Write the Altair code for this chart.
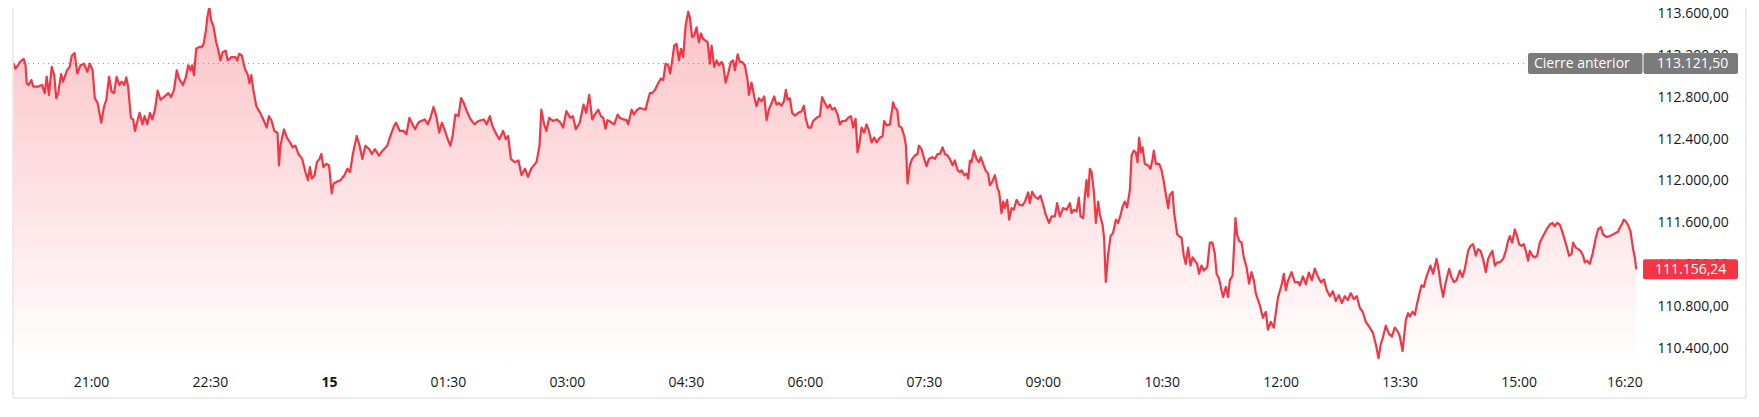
import altair as alt
import pandas as pd

# (minutes since 20:00 of day 14, price)
series = [
    (1.3,113128),(2.7,113074),(4.8,113105),(6.2,113137),(7.6,113152),(9.1,113166),(10.5,113105),(11.4,112933),(12.9,112917),(14.9,112964),
    (16.3,112902),(20.1,112902),(23.0,112917),(25.0,112839),(26.5,112996),(28.2,112823),(30.3,113090),(32.2,113011),(33.7,112792),(35.2,112839),
    (37.4,113021),(38.9,112949),(41.8,113058),(43.9,113090),(45.5,113199),(47.6,113222),(49.6,113027),(52.0,113105),(54.8,113121),(57.2,113043),
    (59.1,113121),(61.2,113058),(62.9,112792),(65.0,112745),(67.8,112557),(69.9,112714),(71.6,112776),(73.7,112996),(75.6,112855),(77.4,112839),
    (79.4,112996),(81.5,112917),(83.2,112949),(85.2,112917),(86.7,112990),(88.1,112902),(90.2,112604),(91.9,112588),(93.3,112478),(95.4,112588),
    (96.8,112651),(98.9,112541),(100.6,112620),(102.6,112541),(104.6,112651),(106.4,112588),(108.4,112682),(110.4,112864),(112.7,112776),(115.7,112808),
    (118.5,112839),(120.6,112801),(122.8,112870),(124.9,113058),(126.6,112980),(129.5,112917),(131.5,112980),(133.6,113105),(135.3,113058),(136.5,113105),
    (137.9,113011),(139.6,113263),(141.7,113279),(143.7,113279),(145.2,113310),(146.9,113435),(148.0,113561),(149.5,113661),(151.0,113529),(152.6,113482),
    (154.7,113326),(156.1,113263),(157.9,113152),(159.6,113231),(161.9,113246),(163.4,113152),(166.3,113184),(169.2,113184),(170.6,113152),(172.1,113215),
    (174.1,113199),(176.4,113074),(178.7,113011),(179.9,112933),(181.3,113011),(182.8,112870),(185.1,112714),(188.0,112651),(190.9,112573),(192.9,112510),
    (194.6,112620),(196.7,112573),(198.7,112478),(201.1,112462),(202.2,112149),(203.3,112337),(206.0,112494),(208.2,112415),(210.6,112368),(212.6,112321),
    (214.6,112337),(216.9,112258),(219.8,112211),(222.2,112086),(224.2,112008),(225.6,112133),(227.1,112023),(229.1,112055),(230.9,112180),(232.9,112211),
    (234.3,112258),(235.8,112133),(237.8,112164),(240.1,112149),(242.1,111882),(243.6,111976),(245.9,111992),(248.8,112008),(251.7,112055),(254.0,112117),
    (256.0,112086),(258.1,112258),(261.0,112431),(263.2,112337),(265.3,112211),(267.6,112337),(270.5,112305),(272.5,112258),(274.8,112305),(277.8,112243),
    (280.6,112290),(284.1,112337),(286.5,112431),(289.3,112526),(290.8,112557),(293.6,112478),(296.6,112478),(298.6,112446),(300.9,112604),(303.2,112541),
    (305.2,112494),(307.6,112557),(309.6,112573),(312.5,112588),(314.8,112541),(316.8,112604),(319.1,112707),(321.2,112620),(323.4,112462),(325.5,112557),
    (327.8,112478),(329.9,112399),(331.8,112337),(333.6,112431),(335.6,112635),(338.0,112620),(340.0,112792),(342.0,112745),(344.3,112667),(347.2,112588),
    (350.1,112541),(353.0,112573),(357.3,112588),(359.4,112541),(361.7,112620),(363.7,112526),(366.0,112462),(368.9,112399),(371.8,112478),(373.8,112399),
    (375.6,112431),(377.6,112211),(380.5,112180),(383.4,112196),(385.7,112055),(388.3,112117),(390.6,112039),(393.0,112117),(395.0,112149),(397.0,112180),
    (399.3,112337),(400.7,112682),(402.8,112541),(404.5,112478),(406.6,112604),(409.4,112573),(412.3,112588),(415.2,112557),(417.2,112510),(419.6,112667),
    (422.5,112604),(424.5,112620),(426.8,112494),(429.7,112557),(432.6,112729),(434.6,112651),(436.9,112823),(439.2,112588),
    (441.2,112635),(443.7,112682),(445.8,112620),(447.5,112604),(449.3,112500),(450.8,112582),(453.3,112563),(455.8,112541),(458.4,112635),(460.1,112604),
    (462.6,112588),(465.2,112582),(466.4,112541),(469.0,112682),(470.7,112635),(472.8,112676),(475.3,112698),(477.7,112688),(479.6,112682),(481.1,112761),
    (482.8,112839),(484.6,112839),(486.6,112870),(489.1,112933),(491.1,112980),(492.9,112964),(494.7,113121),(496.7,113105),(498.2,113027),(499.7,113152),
    (501.2,113294),(503.0,113310),(504.8,113152),(506.3,113263),(508.0,113184),(509.8,113482),(511.8,113617),(513.1,113561),(514.8,113373),(516.3,113388),
    (518.1,113467),(519.9,113326),(521.4,113410),(523.1,113357),(524.9,113341),(526.5,113326),(528.2,113121),(529.5,113294),(531.4,113090),(533.3,113152),
    (535.0,113105),(537.0,113137),(538.3,113105),(540.1,112940),(542.0,113027),(544.1,113137),(545.8,113152),(547.1,113058),(549.2,113209),(550.9,113137),
    (552.6,113137),(554.7,113105),(556.7,112964),(557.7,112823),(559.7,112940),(561.7,112808),(563.5,112714),(565.3,112792),(567.3,112761),(569.3,112808),
    (571.1,112582),(572.8,112682),(574.9,112745),(576.8,112808),(578.6,112729),(580.4,112745),(582.4,112719),(584.2,112761),(585.7,112870),(587.0,112776),
    (588.7,112792),(590.4,112651),(592.5,112625),(595.0,112651),(597.6,112667),(599.3,112719),(600.6,112604),(602.6,112510),(604.6,112510),(606.3,112573),
    (608.9,112604),(611.4,112620),(613.1,112801),(615.2,112745),(617.2,112698),(619.0,112729),(620.7,112682),(622.7,112698),(624.8,112635),(626.5,112541),
    (628.3,112573),(630.8,112573),(632.8,112604),(634.9,112620),(636.6,112510),(638.4,112594),(639.9,112274),(641.1,112337),(642.9,112510),(644.9,112462),
    (646.7,112541),(648.5,112478),(650.5,112368),(652.5,112415),(654.3,112368),(656.8,112415),(658.8,112425),(660.0,112573),(661.9,112531),(664.4,112541),
    (666.8,112751),(668.1,112698),(669.9,112682),(671.2,112526),(673.2,112510),(675.2,112431),(676.5,112337),(677.7,111976),(679.5,112149),(681.2,112211),
    (683.3,112243),(685.3,112258),(686.3,112337),(688.3,112305),(690.3,112211),(692.1,112142),(693.9,112211),(696.3,112227),(698.4,112211),(700.4,112258),
    (702.2,112258),(704.2,112321),(706.0,112258),(708.0,112243),(709.7,112211),(711.8,112149),(713.5,112196),(715.6,112102),(717.3,112086),(718.6,112102),
    (720.6,112055),(722.4,112070),(723.6,112023),(724.9,112196),(726.1,112180),(727.9,112290),(729.9,112211),(731.7,112180),(733.2,112227),(734.9,112164),
    (736.7,112102),(738.7,112070),(740.0,111961),(741.7,111992),(743.8,112055),(745.8,111929),(747.0,111898),(748.8,111694),(750.1,111804),(751.3,111741),
    (753.1,111820),(754.6,111631),(756.4,111741),(758.1,111726),(760.2,111820),(762.2,111773),(764.7,111766),(766.5,111804),(769.0,111891),(770.2,111788),
    (772.0,111898),(774.0,111851),(776.5,111829),(778.3,111860),(780.3,111773),(782.3,111678),(784.8,111599),(786.7,111662),(789.2,111662),(790.9,111788),
    (792.9,111662),(795.4,111741),(798.0,111726),(800.5,111788),(801.8,111694),(803.5,111726),(805.6,111710),(807.3,111841),(808.6,111662),(810.6,111646),
    (811.8,111851),(813.1,112008),(814.3,111851),(815.6,112117),(816.9,112086),(818.7,111898),(820.2,111599),(821.9,111804),(823.2,111678),(825.2,111584),
    (826.4,111458),(827.7,111035),(829.5,111302),(831.3,111474),(833.2,111505),(835.3,111631),(837.0,111599),(838.9,111678),(840.4,111757),(842.1,111804),
    (843.8,111747),(845.9,111914),(847.2,112243),(848.9,112290),(850.4,112274),(851.7,112180),(852.9,112415),(854.2,112274),(855.5,112321),(857.2,112164),
    (859.7,112149),(861.5,112117),(863.1,112211),(864.0,112290),(865.6,112164),(868.1,112164),(869.9,112102),(871.6,111992),(873.6,111835),(874.9,111741),
    (876.1,111867),(878.2,111898),(879.4,111694),(880.7,111584),(881.7,111490),(883.2,111474),(885.0,111458),(886.7,111286),(888.2,111208),(890.0,111364),
    (891.8,111192),(893.3,111270),(895.1,111239),(896.8,111208),(898.3,111114),(900.1,111192),(901.9,111145),(904.4,111176),(906.4,111411),(908.4,111411),
    (910.2,111302),(911.5,111114),(913.4,111067),(915.2,110957),(916.5,110893),(918.5,110988),(920.2,110893),(921.5,111051),(923.6,111098),(924.8,111396),
    (925.8,111646),(927.0,111490),(928.6,111427),(930.4,111411),(932.1,111270),(934.2,111176),(936.1,111020),(937.9,111129),(939.7,111051),(941.2,110925),
    (942.9,110862),(944.2,110815),(946.5,110693),(948.8,110750),(950.3,110580),(952.5,110655),(954.8,110599),(957.1,110815),(958.1,110893),(960.6,111004),
    (962.4,111114),(963.9,110957),(965.6,111051),(968.2,111129),(970.7,111035),(973.2,111035),
    (974.5,111004),(976.8,111088),(979.1,111013),(981.3,111126),(983.6,111051),(985.8,111164),(988.1,111088),(990.4,111032),(992.7,111060),(994.9,110957),
    (997.2,110900),(999.5,110947),(1001.7,110853),(1004.0,110909),(1006.3,110834),(1008.5,110900),(1010.8,110862),(1013.0,110928),(1015.3,110872),(1017.6,110900),
    (1019.9,110787),(1022.1,110749),(1024.4,110655),
    (1027.4,110599),(1029.7,110552),(1032.0,110439),(1034.0,110307),(1035.7,110439),(1037.3,110505),(1039.5,110618),(1041.8,110542),(1044.1,110514),(1046.3,110599),
    (1048.6,110561),(1050.1,110517),(1052.2,110376),(1053.1,110486),(1054.7,110674),(1056.4,110737),(1057.7,110705),(1059.7,110752),(1061.5,110721),(1063.2,110831),
    (1064.7,110910),(1066.5,111004),(1068.3,110988),(1069.8,111067),(1071.5,111129),(1073.3,111192),(1075.3,111114),(1077.9,111255),(1079.8,111129),(1080.9,111020),
    (1082.9,110893),(1084.9,111035),(1087.4,111161),(1089.2,111082),(1091.0,111035),(1093.0,111051),(1095.5,111145),(1097.5,111082),(1099.3,111161),(1101.8,111333),
    (1103.6,111380),(1105.6,111396),(1107.6,111286),(1109.3,111349),(1111.2,111333),(1113.1,111255),(1115.2,111129),(1116.9,111255),(1118.7,111302),(1120.2,111333),
    (1122.0,111192),(1123.7,111223),(1125.8,111223),(1128.3,111255),(1130.3,111333),(1132.0,111427),(1133.3,111474),(1135.1,111411),(1137.1,111537),(1138.8,111474),
    (1140.4,111396),(1142.2,111380),(1143.9,111396),(1145.4,111333),(1147.2,111239),(1148.4,111333),(1150.5,111286),(1152.2,111270),(1154.0,111286),(1156.0,111411),
    (1158.5,111474),(1161.1,111537),(1163.6,111584),(1165.6,111599),(1167.4,111568),(1169.1,111599),(1171.1,111584),(1172.9,111521),(1174.4,111458),(1176.2,111380),
    (1178.2,111286),(1180.0,111302),(1181.2,111411),(1183.2,111364),(1185.0,111349),(1186.8,111333),(1188.8,111286),(1190.0,111223),(1191.8,111239),(1193.8,111208),
    (1195.9,111302),(1198.4,111458),(1200.1,111537),(1202.2,111559),(1203.9,111490),(1206.5,111465),(1209.0,111474),(1211.5,111490),(1213.5,111505),(1215.2,111515),
    (1217.1,111568),(1218.6,111599),(1219.5,111631),(1221.1,111615),(1222.8,111578),(1224.6,111521),(1226.6,111349),(1227.9,111270),(1229.0,111156.24),
]
minutes = [p[0] for p in series]
prices = [p[1] for p in series]

x_ticks = [60, 150, 240, 330, 420, 510, 600, 690, 780, 870, 960, 1050, 1140, 1220]
x_labels = ["21:00", "22:30", "15", "01:30", "03:00", "04:30", "06:00", "07:30",
            "09:00", "10:30", "12:00", "13:30", "15:00", "16:20"]
bold_tick = 240

y_ticks = [110400, 110800, 111200, 111600, 112000, 112400, 112800, 113200, 113600]
y_labels = ["110.400,00", "110.800,00", "111.200,00", "111.600,00", "112.000,00",
            "112.400,00", "112.800,00", "113.200,00", "113.600,00"]

prev_close = 113121.5
prev_close_title = "Cierre anterior"
prev_close_label = "113.121,50"
last_price = prices[-1]
last_price_label = "111.156,24"

# layout / style
X_DOMAIN = [1, 1312]
Y_DOMAIN = [109927.2, 113652.5]
AREA_BASE = 110242.4
W, H = 1733, 390
FONT = "Open Sans"
RED = "#f23645"
GRAY_BOX = "#7b7b7b"
FRAME = "#e6e6e6"
TXT = "#131722"


def js_list(items, quote):
    if quote:
        return "[" + ",".join("'" + str(i) + "'" for i in items) + "]"
    return "[" + ",".join(str(i) for i in items) + "]"


x_axis = alt.Axis(
    values=x_ticks,
    labelExpr=js_list(x_labels, True) + "[indexof(" + js_list(x_ticks, False) + ", datum.value)]",
    orient="bottom", domain=False, ticks=False, tickSize=0, grid=False,
    labelFont=FONT, labelFontSize=14, labelColor=TXT, labelPadding=0,
    offset=-16, labelBaseline="middle", labelAlign="center",
    labelOverlap=False, labelFlush=False,
    labelFontWeight={"condition": {"test": "datum.value == %d" % bold_tick, "value": "bold"}, "value": "normal"},
)
y_axis = alt.Axis(
    values=y_ticks,
    labelExpr=js_list(y_labels, True) + "[indexof(" + js_list(y_ticks, False) + ", datum.value)]",
    orient="right", domain=False, ticks=False, tickSize=0, grid=False,
    labelFont=FONT, labelFontSize=14, labelColor=TXT, labelPadding=0,
    offset=-89, labelAlign="left", labelBaseline="middle",
    labelOverlap=False, labelFlush=False,
)

x_enc = alt.X("m:Q", scale=alt.Scale(domain=X_DOMAIN, nice=False, zero=False), axis=x_axis, title=None)
y_enc = alt.Y("price:Q", scale=alt.Scale(domain=Y_DOMAIN, nice=False, zero=False), axis=y_axis, title=None)

df = pd.DataFrame({"m": minutes, "price": prices})

area = alt.Chart(df).mark_area(
    clip=True,
    color=alt.Gradient(
        gradient="linear",
        stops=[alt.GradientStop(color="rgba(242,54,69,0.30)", offset=0),
               alt.GradientStop(color="rgba(242,54,69,0.0)", offset=1)],
        x1=1, x2=1, y1=0, y2=1,
    ),
).encode(x=x_enc, y=y_enc, y2=alt.datum(AREA_BASE))

line = alt.Chart(df).mark_line(color=RED, strokeWidth=2.2, clip=True,
                               strokeJoin="round").encode(x=x_enc, y=y_enc)

ref_df = pd.DataFrame({"price": [prev_close], "title": [prev_close_title], "label": [prev_close_label]})
last_df = pd.DataFrame({"price": [last_price], "label": [last_price_label]})

dotted = alt.Chart(ref_df).mark_rule(color="#8f8f8f", strokeDash=[1, 4], strokeWidth=1).encode(
    y=y_enc, x=alt.value(0), x2=alt.value(1515))

frame_data = alt.Data(values=[{}])
frame_left = alt.Chart(frame_data).mark_rule(color=FRAME, strokeWidth=1.5).encode(
    x=alt.value(0), y=alt.value(0), y2=alt.value(H))
frame_right = alt.Chart(frame_data).mark_rule(color=FRAME, strokeWidth=1.5).encode(
    x=alt.value(W), y=alt.value(0), y2=alt.value(H))
frame_bottom = alt.Chart(frame_data).mark_rule(color=FRAME, strokeWidth=1.5).encode(
    y=alt.value(H), x=alt.value(0), x2=alt.value(W))

box_title = alt.Chart(ref_df).mark_rect(yOffset=-10.5, y2Offset=10.5, cornerRadius=2, color=GRAY_BOX).encode(
    y=y_enc, y2="price:Q", x=alt.value(1515), x2=alt.value(1629.5))
box_value = alt.Chart(ref_df).mark_rect(yOffset=-10.5, y2Offset=10.5, cornerRadius=2, color=GRAY_BOX).encode(
    y=y_enc, y2="price:Q", x=alt.value(1630.5), x2=alt.value(1725))
box_last = alt.Chart(last_df).mark_rect(yOffset=-10, y2Offset=10, cornerRadius=2, color=RED).encode(
    y=y_enc, y2="price:Q", x=alt.value(1630), x2=alt.value(1725))

txt_kw = dict(align="left", baseline="middle", font=FONT, fontSize=14, color="white", dy=0.5)
text_title = alt.Chart(ref_df).mark_text(**txt_kw).encode(y=y_enc, x=alt.value(1521), text="title:N")
text_value = alt.Chart(ref_df).mark_text(**txt_kw).encode(y=y_enc, x=alt.value(1644), text="label:N")
text_last = alt.Chart(last_df).mark_text(**txt_kw).encode(y=y_enc, x=alt.value(1642), text="label:N")

chart = alt.layer(
    area, dotted, line, frame_left, frame_right, frame_bottom,
    box_title, box_value, box_last, text_title, text_value, text_last,
).properties(
    width=W, height=H,
    autosize=alt.AutoSizeParams(type="none"),
    padding={"left": 5, "top": 0, "right": 5, "bottom": 5},
    background="white",
).configure_view(strokeWidth=0)

chart.save("out.html", embed_options={"renderer": "svg", "actions": False})
